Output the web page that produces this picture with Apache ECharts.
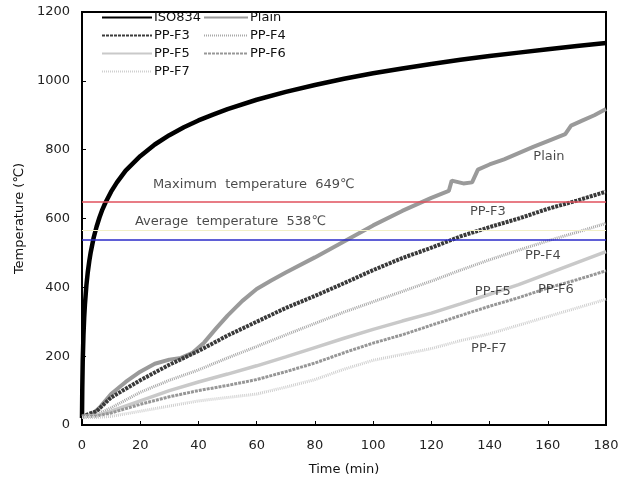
<!DOCTYPE html>
<html>
<head>
<meta charset="utf-8">
<script src="https://cdn.jsdelivr.net/npm/echarts@6/dist/echarts.min.js"></script>
<style>
  html, body { margin: 0; padding: 0; background: #fff; }
  #chart { width: 635px; height: 488px; }
</style>
</head>
<body>
<div id="chart"></div>
<script>
// Standard fire curve (time in min, temperature in °C)
const isoTime = [0, 0.1, 0.25, 0.5, 0.75, 1, 1.5, 2, 2.5, 3, 4, 5, 6, 7, 8, 10, 12, 15, 20, 25, 30, 35, 40, 45, 50, 60, 70, 80, 90, 100, 110, 120, 130, 140, 150, 160, 170, 180];
const isoTemp = [20, 108, 185, 261, 312, 349, 405, 445, 476, 502, 544, 576, 603, 626, 645, 678, 705, 739, 781, 815, 842, 865, 885, 902, 918, 945, 968, 988, 1006, 1022, 1036, 1049, 1061, 1072, 1082, 1092, 1101, 1110];

// Plain specimen
const plainTime = [0, 3, 6, 10, 15, 20, 25, 30, 34, 38, 42, 46, 50, 55, 60, 65, 70, 80, 90, 100, 110, 120, 126, 127, 131, 134, 136, 140, 145, 150, 155, 160, 166, 168, 172, 176, 180];
const plainTemp = [25, 27, 50, 90, 125, 155, 178, 190, 195, 210, 240, 280, 318, 360, 395, 420, 443, 487, 533, 580, 622, 660, 680, 710, 702, 705, 742, 757, 772, 790, 808, 825, 845, 870, 885, 900, 918];

// Fibre-reinforced specimens, shared time base
const ppTime = [0, 5, 10, 20, 30, 40, 50, 60, 70, 80, 90, 100, 110, 120, 130, 140, 150, 160, 170, 180];
const ppF3 = [25, 40, 80, 130, 175, 215, 260, 300, 340, 375, 412, 450, 485, 515, 548, 575, 600, 628, 652, 678];
const ppF4 = [25, 30, 50, 95, 130, 160, 195, 228, 262, 295, 328, 358, 388, 418, 450, 480, 508, 535, 560, 586];
const ppF5 = [25, 27, 40, 70, 100, 125, 148, 172, 198, 225, 252, 278, 302, 325, 352, 380, 408, 440, 472, 504];
const ppF6 = [25, 26, 35, 60, 82, 100, 115, 132, 155, 180, 210, 238, 262, 290, 318, 345, 370, 398, 422, 448];
const ppF7 = [22, 22, 25, 40, 55, 70, 80, 90, 110, 132, 162, 188, 205, 222, 245, 265, 290, 315, 340, 365];

// Reference temperatures
const maxTemp = 649;
const avgTemp = 538;

// Axis ticks
const xTicks = [0, 20, 40, 60, 80, 100, 120, 140, 160, 180];
const yTicks = [0, 200, 400, 600, 800, 1000, 1200];

const pair = (xs, ys) => xs.map((x, i) => [x, ys[i]]);

const FONT = 'DejaVu Sans';

function lineSeries(name, xs, ys, color, width, type) {
  return {
    name: name,
    type: 'line',
    data: pair(xs, ys),
    symbol: 'none',
    showSymbol: false,
    smooth: false,
    lineStyle: { color: color, width: width, type: type },
    itemStyle: { color: color },
    z: 3
  };
}

const series = [
  lineSeries('ISO834', isoTime, isoTemp, '#000000', 4.5, 'solid'),
  lineSeries('Plain', plainTime, plainTemp, '#9a9a9a', 4, 'solid'),
  lineSeries('PP-F3', ppTime, ppF3, '#3a3a3a', 4, [3, 1]),
  lineSeries('PP-F4', ppTime, ppF4, '#a8a8a8', 3, [1, 1]),
  lineSeries('PP-F5', ppTime, ppF5, '#c9c9c9', 3.5, 'solid'),
  lineSeries('PP-F6', ppTime, ppF6, '#979797', 3, [3, 1]),
  lineSeries('PP-F7', ppTime, ppF7, '#cfcfcf', 3, [1, 1])
];

// Horizontal reference lines
series.push({
  name: 'refs',
  type: 'line',
  data: [],
  silent: true,
  markLine: {
    symbol: 'none',
    silent: true,
    label: { show: false },
    data: [
      { yAxis: maxTemp, lineStyle: { color: '#e0505c', width: 1.5, type: 'solid' } },
      { yAxis: avgTemp, lineStyle: { color: '#2a2ac8', width: 1.5, type: 'solid' } },
      { yAxis: 566, lineStyle: { color: '#f1efc6', width: 1, type: 'solid' } }
    ]
  },
  z: 2
});

// Text annotations placed in data coordinates
const notes = [
  { at: [59, 698], text: 'Maximum  temperature  ' + maxTemp + '℃' },
  { at: [51, 590], text: 'Average  temperature  ' + avgTemp + '℃' },
  { at: [160.4, 779], text: 'Plain' },
  { at: [139.4, 619], text: 'PP-F3' },
  { at: [158.3, 491], text: 'PP-F4' },
  { at: [141.1, 387], text: 'PP-F5' },
  { at: [162.8, 392], text: 'PP-F6' },
  { at: [139.8, 221], text: 'PP-F7' }
];
series.push({
  name: 'notes',
  type: 'scatter',
  symbolSize: 0,
  silent: true,
  data: notes.map(n => ({ value: n.at, text: n.text })),
  label: {
    show: true,
    position: 'inside',
    formatter: p => p.data.text,
    color: '#1a1a1a',
    fontFamily: FONT,
    fontSize: 13
  },
  z: 5
});

const legendCommon = {
  orient: 'vertical',
  top: 11,
  itemWidth: 50,
  itemHeight: 12,
  itemGap: 5,
  itemStyle: { opacity: 0 },
  textStyle: { fontFamily: FONT, fontSize: 13, color: '#111', padding: [0, 0, 0, -3] },
  padding: 0,
  selectedMode: false
};

const option = {
  animation: false,
  backgroundColor: '#ffffff',
  grid: {
    left: 82, right: 29, top: 12, bottom: 63,
    show: true, borderColor: '#000', borderWidth: 2, backgroundColor: 'transparent'
  },
  legend: [
    Object.assign({}, legendCommon, { left: 101, data: ['ISO834', 'PP-F3', 'PP-F5', 'PP-F7'] }),
    Object.assign({}, legendCommon, { left: 203, itemWidth: 44, data: ['Plain', 'PP-F4', 'PP-F6'] })
  ],
  xAxis: {
    type: 'value',
    min: xTicks[0],
    max: xTicks[xTicks.length - 1],
    interval: xTicks[1] - xTicks[0],
    name: 'Time (min)',
    nameLocation: 'middle',
    nameGap: 38,
    nameTextStyle: { fontFamily: FONT, fontSize: 13, color: '#111' },
    axisLine: { lineStyle: { color: '#000', width: 2 } },
    axisTick: { inside: true, length: 4, lineStyle: { color: '#000', width: 1 } },
    axisLabel: { fontFamily: FONT, fontSize: 13, color: '#222', margin: 14, formatter: v => String(v) },
    splitLine: { show: false }
  },
  yAxis: {
    type: 'value',
    min: yTicks[0],
    max: yTicks[yTicks.length - 1],
    interval: yTicks[1] - yTicks[0],
    name: 'Temperature (℃)',
    nameLocation: 'middle',
    nameGap: 52,
    nameTextStyle: { fontFamily: FONT, fontSize: 13, color: '#111' },
    axisLine: { lineStyle: { color: '#000', width: 2 } },
    axisTick: { inside: true, length: 4, lineStyle: { color: '#000', width: 1 } },
    axisLabel: { fontFamily: FONT, fontSize: 13, color: '#222', margin: 12, formatter: v => String(v) },
    splitLine: { show: false }
  },
  series: series
};

const chart = echarts.init(document.getElementById('chart'), null, { renderer: 'canvas' });
chart.setOption(option);
</script>
</body>
</html>
